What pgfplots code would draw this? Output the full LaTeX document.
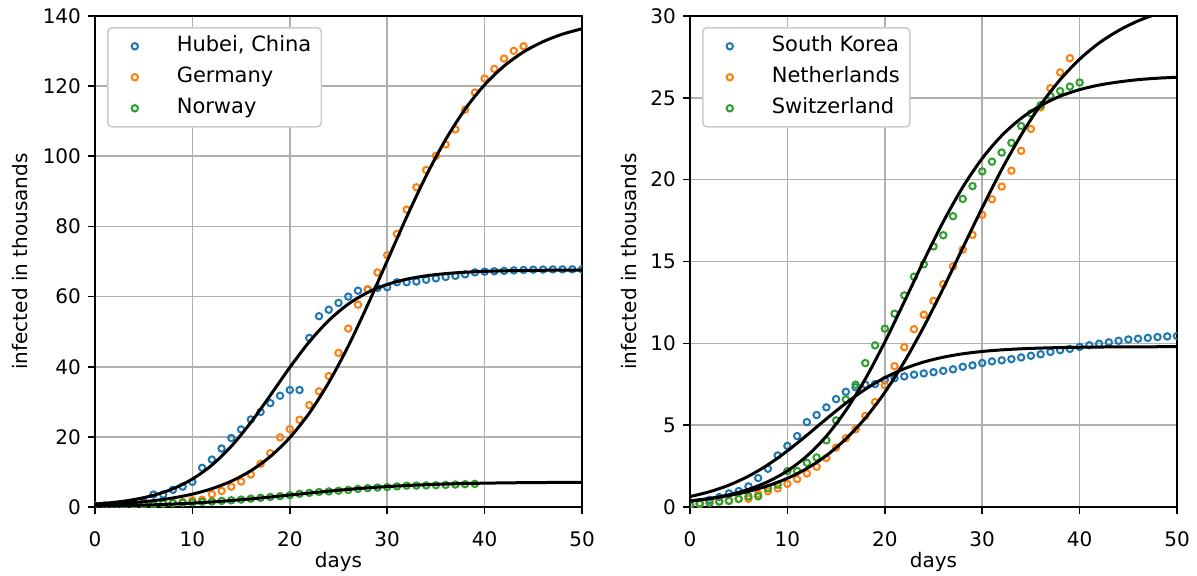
\documentclass[border=0pt]{standalone}
\usepackage{fontspec}
\setmainfont{DejaVu Sans}
\usepackage{pgfplots}
\pgfplotsset{compat=1.18}

\definecolor{tabblue}{HTML}{1F77B4}
\definecolor{taborange}{HTML}{FF7F0E}
\definecolor{tabgreen}{HTML}{2CA02C}
\definecolor{gridgray}{HTML}{B0B0B0}
\definecolor{leggray}{HTML}{CCCCCC}

\pgfplotsset{
  covstyle/.style={
    scale only axis, width=243.5pt, height=245.5pt,
    anchor=south west,
    xmin=0, xmax=50, xtick={0,10,...,50},
    grid=major, grid style={gridgray, line width=0.8pt},
    axis line style={line width=0.8pt},
    tick align=outside, xtick pos=bottom, ytick pos=left,
    major tick length=3.5pt, tick style={black, line width=0.8pt},
    tick label style={font=\fontsize{10}{12}\selectfont},
    /pgf/number format/assume math mode=true,
    scaled ticks=false,
    xticklabel style={anchor=base, yshift=-16.2pt},
    label style={font=\fontsize{10}{12}\selectfont},
    xlabel={days}, ylabel={infected in thousands},
    xlabel style={at={([yshift=-30.3pt]axis description cs:0.5,0)}, anchor=base, inner sep=0pt},
    clip marker paths=true,
    legend cell align=left,
    legend style={at={(0,1)}, anchor=north west, xshift=6pt, yshift=-5.5pt,
      draw=leggray, line width=0.8pt, rounded corners=2pt, fill=white,
      font=\fontsize{10.5}{12.5}\selectfont, inner xsep=3pt, inner ysep=3pt, row sep=3pt,
      nodes={inner xsep=2pt, inner ysep=1pt, text height=8pt, text depth=2.5pt},
      /tikz/every odd column/.append style={column sep=10.5pt}},
    legend image code/.code={\draw[#1] plot coordinates {(10pt,0pt)}; \path (0pt,0pt) (18pt,0pt);},
  },
  dat/.style={only marks, mark=o, mark size=1.6pt, line width=1pt},
  fitc/.style={black, line width=1.5pt, smooth, no marks, forget plot},
}

\begin{document}
\begin{tikzpicture}
\path[use as bounding box] (0,0) rectangle (598.5pt,287.5pt);

\begin{axis}[covstyle, at={(47.5pt,34pt)}, ymin=0, ymax=140, ytick={0,20,...,140},
  ylabel style={at={([xshift=-33.5pt]axis description cs:0,0.5)}, anchor=base, inner sep=0pt}]
\addplot[dat, tabblue] coordinates {(0,0.444)(1,0.444)(2,0.549)(3,0.761)(4,1.058)(5,1.423)(6,3.554)(7,3.554)(8,4.903)(9,5.806)(10,7.153)(11,11.177)(12,13.522)(13,16.678)(14,19.665)(15,22.112)(16,24.953)(17,27.100)(18,29.631)(19,31.728)(20,33.366)(21,33.366)(22,48.206)(23,54.406)(24,56.249)(25,58.182)(26,59.989)(27,61.682)(28,62.031)(29,62.442)(30,62.662)(31,64.084)(32,64.084)(33,64.287)(34,64.786)(35,65.187)(36,65.596)(37,65.914)(38,66.337)(39,66.907)(40,67.103)(41,67.217)(42,67.332)(43,67.466)(44,67.592)(45,67.666)(46,67.707)(47,67.743)(48,67.760)(49,67.773)(50,67.781)};
\addlegendentry{Hubei, China}
\addplot[dat, taborange] coordinates {(0,0.130)(1,0.159)(2,0.196)(3,0.262)(4,0.482)(5,0.670)(6,0.799)(7,1.040)(8,1.176)(9,1.457)(10,1.908)(11,2.078)(12,3.675)(13,4.585)(14,5.795)(15,7.272)(16,9.257)(17,12.327)(18,15.320)(19,19.848)(20,22.213)(21,24.873)(22,29.056)(23,32.986)(24,37.323)(25,43.938)(26,50.871)(27,57.695)(28,62.095)(29,66.885)(30,71.808)(31,77.872)(32,84.794)(33,91.159)(34,96.092)(35,100.123)(36,103.374)(37,107.663)(38,113.296)(39,118.181)(40,122.171)(41,124.908)(42,127.854)(43,130.072)(44,131.359)};
\addlegendentry{Germany}
\addplot[dat, tabgreen] coordinates {(0,0.108)(1,0.147)(2,0.176)(3,0.205)(4,0.400)(5,0.598)(6,0.702)(7,0.996)(8,1.090)(9,1.221)(10,1.333)(11,1.463)(12,1.550)(13,1.746)(14,1.914)(15,2.118)(16,2.385)(17,2.621)(18,2.863)(19,3.084)(20,3.369)(21,3.755)(22,4.015)(23,4.284)(24,4.445)(25,4.641)(26,4.863)(27,5.147)(28,5.370)(29,5.550)(30,5.687)(31,5.865)(32,6.086)(33,6.113)(34,6.160)(35,6.211)(36,6.314)(37,6.409)(38,6.525)(39,6.603)};
\addlegendentry{Norway}
\addplot[fitc] coordinates {(0,0.835)(2,1.331)(4,2.113)(6,3.330)(8,5.196)(10,7.974)(12,11.95)(14,17.34)(16,24.11)(18,31.84)(20,39.79)(22,47.10)(24,53.19)(26,57.85)(28,61.18)(30,63.46)(32,64.96)(34,65.93)(36,66.55)(38,66.94)(40,67.19)(42,67.34)(44,67.44)(46,67.50)(48,67.54)(50,67.56)};
\addplot[fitc] coordinates {(0,0.616)(2,0.883)(4,1.265)(6,1.809)(8,2.581)(10,3.676)(12,5.220)(14,7.380)(16,10.35)(18,14.40)(20,19.79)(22,26.77)(24,35.49)(26,45.87)(28,57.64)(30,70.18)(32,82.70)(34,94.44)(36,104.77)(38,113.44)(40,120.38)(42,125.73)(44,129.75)(46,132.69)(48,134.83)(50,136.36)};
\addplot[fitc] coordinates {(0,0.257)(2,0.350)(4,0.473)(6,0.635)(8,0.846)(10,1.115)(12,1.450)(14,1.854)(16,2.325)(18,2.849)(20,3.408)(22,3.974)(24,4.519)(26,5.018)(28,5.456)(30,5.826)(32,6.127)(34,6.366)(36,6.552)(38,6.693)(40,6.799)(42,6.879)(44,6.938)(46,6.982)(48,7.014)(50,7.037)};
\end{axis}

\begin{axis}[covstyle, at={(345pt,34pt)}, ymin=0, ymax=30, ytick={0,5,...,30},
  ylabel style={at={([xshift=-27pt]axis description cs:0,0.5)}, anchor=base, inner sep=0pt}]
\addplot[dat, tabblue] coordinates {(0,0.104)(1,0.204)(2,0.433)(3,0.602)(4,0.833)(5,0.977)(6,1.261)(7,1.766)(8,2.337)(9,3.150)(10,3.736)(11,4.335)(12,5.186)(13,5.621)(14,6.088)(15,6.593)(16,7.041)(17,7.314)(18,7.478)(19,7.513)(20,7.755)(21,7.869)(22,7.979)(23,8.086)(24,8.162)(25,8.236)(26,8.320)(27,8.413)(28,8.565)(29,8.652)(30,8.799)(31,8.897)(32,8.961)(33,9.037)(34,9.137)(35,9.241)(36,9.332)(37,9.478)(38,9.583)(39,9.661)(40,9.786)(41,9.887)(42,9.976)(43,10.062)(44,10.156)(45,10.237)(46,10.284)(47,10.331)(48,10.384)(49,10.423)(50,10.450)};
\addlegendentry{South Korea}
\addplot[dat, taborange] coordinates {(0,0.128)(1,0.188)(2,0.265)(3,0.321)(4,0.382)(5,0.503)(6,0.503)(7,0.804)(8,0.959)(9,1.135)(10,1.413)(11,1.705)(12,2.051)(13,2.460)(14,2.994)(15,3.631)(16,4.204)(17,4.749)(18,5.560)(19,6.412)(20,7.431)(21,8.603)(22,9.762)(23,10.866)(24,11.750)(25,12.595)(26,13.614)(27,14.697)(28,15.723)(29,16.627)(30,17.851)(31,18.803)(32,19.580)(33,20.549)(34,21.762)(35,23.097)(36,24.413)(37,25.587)(38,26.551)(39,27.419)};
\addlegendentry{Netherlands}
\addplot[dat, tabgreen] coordinates {(0,0.114)(1,0.214)(2,0.268)(3,0.337)(4,0.374)(5,0.491)(6,0.652)(7,0.652)(8,1.139)(9,1.359)(10,2.200)(11,2.200)(12,2.700)(13,3.028)(14,4.075)(15,5.294)(16,6.575)(17,7.474)(18,8.795)(19,9.877)(20,10.897)(21,11.811)(22,12.928)(23,14.076)(24,14.829)(25,15.922)(26,16.605)(27,17.768)(28,18.827)(29,19.606)(30,20.505)(31,21.100)(32,21.657)(33,22.253)(34,23.280)(35,24.051)(36,24.551)(37,25.107)(38,25.415)(39,25.688)(40,25.936)};
\addlegendentry{Switzerland}
\addplot[fitc] coordinates {(0,0.639)(2,0.931)(4,1.337)(6,1.882)(8,2.582)(10,3.430)(12,4.387)(14,5.386)(16,6.343)(18,7.195)(20,7.900)(22,8.450)(24,8.860)(26,9.154)(28,9.361)(30,9.504)(32,9.601)(34,9.667)(36,9.711)(38,9.741)(40,9.761)(42,9.774)(44,9.783)(46,9.788)(48,9.792)(50,9.795)};
\addplot[fitc] coordinates {(0,0.378)(2,0.516)(4,0.703)(6,0.957)(8,1.298)(10,1.753)(12,2.356)(14,3.143)(16,4.157)(18,5.434)(20,7.004)(22,8.870)(24,11.01)(26,13.36)(28,15.83)(30,18.28)(32,20.62)(34,22.73)(36,24.57)(38,26.11)(40,27.36)(42,28.35)(44,29.11)(46,29.70)(48,30.14)(50,30.47)};
\addplot[fitc] coordinates {(0,0.352)(2,0.513)(4,0.744)(6,1.078)(8,1.549)(10,2.209)(12,3.117)(14,4.329)(16,5.898)(18,7.827)(20,10.08)(22,12.54)(24,15.05)(26,17.43)(28,19.54)(30,21.30)(32,22.69)(34,23.75)(36,24.53)(38,25.10)(40,25.50)(42,25.78)(44,25.97)(46,26.11)(48,26.20)(50,26.26)};
\end{axis}
\end{tikzpicture}
\end{document}
